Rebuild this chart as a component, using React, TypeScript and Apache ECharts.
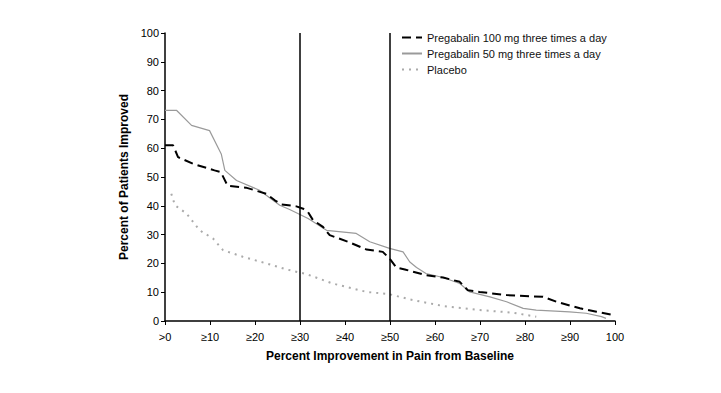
import React, { useEffect, useRef } from "react";
import * as echarts from "echarts";

const xTickLabels = [">0", "≥10", "≥20", "≥30", "≥40", "≥50", "≥60", "≥70", "≥80", "≥90", "100"];
const referenceLines = [30, 50];

const seriesNames = [
  "Pregabalin 100 mg three times a day",
  "Pregabalin 50 mg three times a day",
  "Placebo",
];

const preg100: [number, number][] = [
  [0, 61], [1.8, 61], [2.9, 56.9], [6.2, 54.6], [11, 52.3], [12.4, 51.7], [13.9, 47], [18, 46.3],
  [22.5, 44.2], [24.4, 41.9], [25.9, 40.5], [29.2, 39.8], [30.7, 39], [31.8, 37.8], [32.9, 35],
  [35.1, 32.7], [36.6, 29.8], [40.7, 27.5], [44.8, 24.8], [48.4, 24], [49.9, 21.7], [51.4, 18.6],
  [53.3, 17.9], [58, 15.9], [61.8, 15.1], [65.5, 13.6], [67.3, 10.7], [69.9, 10.1], [75.9, 9],
  [84, 8.4], [87, 6.7], [92.2, 4.4], [95.9, 3.2], [99.6, 2.1],
];

const preg50: [number, number][] = [
  [0, 73.1], [2.6, 73.1], [5.9, 67.9], [9.9, 66.1], [12.5, 58], [13.3, 52.3], [15.9, 48.8],
  [21, 45.4], [25.5, 40.2], [27.7, 38.7], [31.8, 35.6], [35.9, 31.5], [42.5, 30.4], [45.5, 27.5],
  [49.9, 25.2], [52.9, 24], [54.4, 20.5], [55.9, 18.6], [58, 16.5], [61.8, 15.1], [65.5, 13],
  [67.7, 10.1], [72.2, 8.4], [75.9, 6.7], [79.6, 4.4], [82.5, 3.8], [89.9, 3.2], [93.6, 2.7],
  [97, 1.5], [98, 0.9],
];

const placebo: [number, number][] = [
  [1.4, 44.2], [2.2, 40.2], [4.8, 37.3], [7.7, 31.5], [10.7, 28.6], [12.9, 24.6], [17.3, 22.3],
  [22.5, 20], [27, 17.9], [31.4, 16.3], [37.3, 13], [44.8, 10.1], [49.9, 9.3], [54.4, 7.5],
  [61.8, 5.2], [69.9, 3.8], [77.3, 2.9], [82.5, 1.5],
];

const FONT = "Liberation Sans, Arial, sans-serif";

export default function App() {
  const ref = useRef<HTMLDivElement>(null);
  useEffect(() => {
    if (!ref.current) return;
    const chart = echarts.init(ref.current, undefined, { renderer: "svg" });
    chart.setOption({
      animation: false,
      backgroundColor: "#fff",
      textStyle: { fontFamily: FONT },
      grid: { left: 165, right: 106, top: 33, bottom: 72 },
      legend: {
        orient: "vertical",
        left: 396,
        top: 27,
        itemWidth: 20,
        itemHeight: 10,
        itemGap: 5,
        itemStyle: { opacity: 0 },
        textStyle: { fontFamily: FONT, fontSize: 11, color: "#111" },
        data: seriesNames,
      },
      xAxis: {
        type: "value",
        min: 0,
        max: 100,
        interval: 10,
        name: "Percent Improvement in Pain from Baseline",
        nameLocation: "middle",
        nameGap: 29,
        nameTextStyle: { fontFamily: FONT, fontSize: 12, fontWeight: "bold", color: "#000" },
        axisLine: { lineStyle: { color: "#000", width: 1.5 } },
        axisTick: { show: true, length: 4, lineStyle: { color: "#000" } },
        axisLabel: {
          margin: 10,
          fontSize: 11,
          color: "#000",
          formatter: (v: number) => xTickLabels[Math.round(v / 10)] ?? "",
        },
        splitLine: { show: false },
      },
      yAxis: {
        type: "value",
        min: 0,
        max: 100,
        interval: 10,
        name: "Percent of Patients Improved",
        nameLocation: "middle",
        nameGap: 30,
        nameRotate: 90,
        nameTextStyle: { fontFamily: FONT, fontSize: 12, fontWeight: "bold", color: "#000" },
        axisLine: { show: true, lineStyle: { color: "#000", width: 1.5 } },
        axisTick: { show: true, length: 4, lineStyle: { color: "#000" } },
        axisLabel: { margin: 6, fontSize: 11, color: "#000" },
        splitLine: { show: false },
      },
      series: [
        {
          name: seriesNames[0],
          type: "line",
          symbol: "none",
          data: preg100,
          lineStyle: { color: "#000", width: 2, type: [9, 5] },
          itemStyle: { color: "#000" },
          z: 3,
          markLine: {
            silent: true,
            symbol: "none",
            label: { show: false },
            lineStyle: { color: "#000", width: 1.5, type: "solid" },
            data: referenceLines.map((x) => ({ xAxis: x })),
          },
        },
        {
          name: seriesNames[1],
          type: "line",
          symbol: "none",
          data: preg50,
          lineStyle: { color: "#9a9a9a", width: 1.2, type: "solid" },
          itemStyle: { color: "#9a9a9a" },
          z: 2,
        },
        {
          name: seriesNames[2],
          type: "line",
          symbol: "none",
          data: placebo,
          lineStyle: { color: "#aaaaaa", width: 2, type: [2, 5] },
          itemStyle: { color: "#aaaaaa" },
          z: 1,
        },
      ],
    });
    return () => chart.dispose();
  }, []);
  return (
    <div
      ref={ref}
      style={{ position: "fixed", left: 0, top: 0, width: 721, height: 393, background: "#fff" }}
    />
  );
}
